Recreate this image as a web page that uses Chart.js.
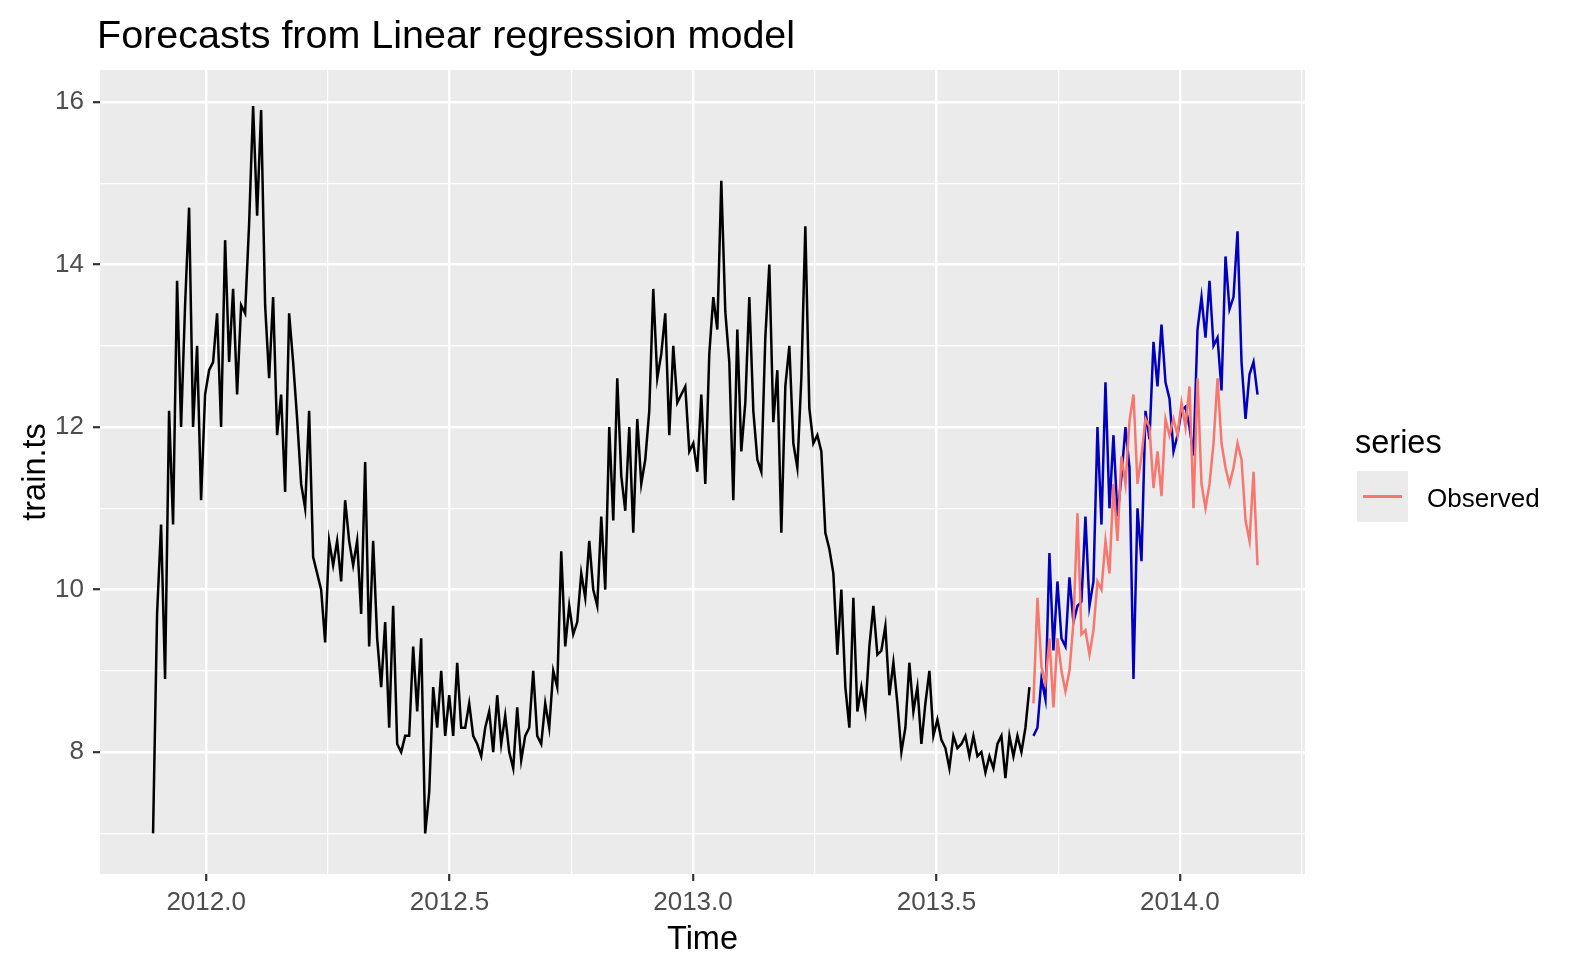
<!DOCTYPE html>
<html><head><meta charset="utf-8">
<script src="https://cdn.jsdelivr.net/npm/chart.js@4.4.0/dist/chart.umd.min.js"></script>
<style>html,body{margin:0;padding:0;background:#fff;overflow:hidden}</style>
</head><body>
<canvas id="c" width="1575" height="973"></canvas>
<script>
// time series index: start (decimal year) and sampling step (3 days)
const START_YEAR = 2011.891;
const STEP_YEARS = 3 / 365;

// training series (black)
const trainValues = [
  7.0, 9.7, 10.8, 8.9, 12.2, 10.8, 13.8, 12.0, 13.5, 14.7,
  12.0, 13.0, 11.1, 12.4, 12.7, 12.8, 13.4, 12.0, 14.3, 12.8,
  13.7, 12.4, 13.5, 13.4, 14.5, 15.95, 14.6, 15.9, 13.5, 12.6,
  13.6, 11.9, 12.4, 11.2, 13.4, 12.8, 12.1, 11.3, 11.0, 12.2,
  10.4, 10.2, 10.0, 9.35, 10.6, 10.3, 10.6, 10.1, 11.1, 10.6,
  10.3, 10.6, 9.7, 11.57, 9.3, 10.6, 9.4, 8.8, 9.6, 8.3,
  9.8, 8.1, 8.0, 8.2, 8.2, 9.3, 8.5, 9.4, 7.0, 7.5,
  8.8, 8.3, 9.0, 8.2, 8.7, 8.2, 9.1, 8.3, 8.3, 8.6,
  8.2, 8.1, 7.95, 8.3, 8.5, 8.0, 8.7, 8.1, 8.45, 8.0,
  7.8, 8.55, 7.9, 8.2, 8.3, 9.0, 8.2, 8.1, 8.6, 8.3,
  9.0, 8.8, 10.47, 9.3, 9.8, 9.45, 9.6, 10.2, 9.9, 10.6,
  10.0, 9.8, 10.9, 10.0, 12.0, 10.85, 12.6, 11.4, 10.97, 12.0,
  10.7, 12.1, 11.3, 11.6, 12.2, 13.7, 12.6, 12.9, 13.4, 11.9,
  13.0, 12.3, 12.4, 12.5, 11.7, 11.8, 11.45, 12.4, 11.3, 12.9,
  13.6, 13.2, 15.03, 13.42, 12.8, 11.1, 13.2, 11.7, 12.3, 13.6,
  12.2, 11.6, 11.45, 13.1, 14.0, 12.06, 12.7, 10.7, 12.5, 13.0,
  11.8, 11.5, 12.6, 14.47, 12.23, 11.8, 11.9, 11.7, 10.7, 10.5,
  10.2, 9.2, 10.0, 8.8, 8.3, 9.9, 8.5, 8.8, 8.5, 9.3,
  9.8, 9.2, 9.25, 9.55, 8.7, 9.1, 8.6, 8.0, 8.3, 9.1,
  8.5, 8.8, 8.1, 8.6, 9.0, 8.2, 8.4, 8.15, 8.05, 7.8,
  8.2, 8.05, 8.1, 8.2, 7.95, 8.2, 7.95, 8.0, 7.75, 7.95,
  7.8, 8.1, 8.2, 7.68, 8.2, 7.95, 8.2, 8.0, 8.3, 8.8
];

// forecast from linear regression model (blue)
const forecastValues = [
  8.2, 8.3, 8.9, 8.65, 10.45, 9.25, 10.1, 9.4, 9.3, 10.15,
  9.6, 9.8, 9.85, 10.9, 9.8, 10.1, 12.0, 10.8, 12.55, 11.0,
  11.9, 10.9, 11.4, 12.0, 11.5, 8.9, 11.0, 10.35, 12.2, 11.85,
  13.05, 12.5, 13.26, 12.55, 12.35, 11.7, 11.9, 12.2, 12.25, 12.0,
  11.65, 13.2, 13.6, 13.1, 13.8, 13.0, 13.1, 12.45, 14.1, 13.45,
  13.6, 14.41, 12.8, 12.1, 12.65, 12.8, 12.4
];

// observed test series (red)
const observedValues = [
  8.6, 9.9, 9.05, 8.85, 9.4, 8.55, 9.4, 9.0, 8.75, 9.0,
  9.6, 10.94, 9.45, 9.5, 9.2, 9.5, 10.1, 10.0, 10.6, 10.2,
  11.3, 10.6, 11.64, 11.3, 12.07, 12.4, 11.3, 11.64, 12.1, 12.0,
  11.25, 11.7, 11.15, 12.1, 11.9, 12.1, 11.9, 12.3, 12.0, 12.5,
  11.0, 12.6, 11.3, 11.0, 11.3, 11.8, 12.6, 11.8, 11.5, 11.3,
  11.5, 11.8, 11.6, 10.85, 10.6, 11.45, 10.3
];

const xMajorTicks = [2012.0, 2012.5, 2013.0, 2013.5, 2014.0];
const xMinorTicks = [2012.25, 2012.75, 2013.25, 2013.75, 2014.25];
const yMajorTicks = [8, 10, 12, 14, 16];
const yMinorTicks = [7, 9, 11, 13, 15];

const FONT = '"Liberation Sans", Arial, sans-serif';

function toPoints(vals, offset) {
  return vals.map((v, i) => ({ x: START_YEAR + (offset + i) * STEP_YEARS, y: v }));
}
const nTrain = trainValues.length;

const bgPlugin = {
  id: 'bg',
  beforeDraw(chart) {
    const { ctx, chartArea: a } = chart;
    ctx.save();
    ctx.fillStyle = '#FFFFFF';
    ctx.fillRect(0, 0, chart.width, chart.height);
    ctx.fillStyle = '#EBEBEB';
    ctx.fillRect(a.left, a.top, a.right - a.left, a.bottom - a.top);
    ctx.restore();
  }
};

const textPlugin = {
  id: 'texts',
  afterDraw(chart) {
    const { ctx, chartArea: a } = chart;
    ctx.save();
    ctx.fillStyle = '#000000';
    ctx.textBaseline = 'alphabetic';
    // title
    ctx.font = '39.5px ' + FONT;
    ctx.textAlign = 'left';
    ctx.fillText('Forecasts from Linear regression model', 97, 48);
    // x axis title
    ctx.font = '32.5px ' + FONT;
    ctx.textAlign = 'center';
    ctx.fillText('Time', (a.left + a.right) / 2, 949);
    // y axis title
    ctx.save();
    ctx.translate(45, (a.top + a.bottom) / 2);
    ctx.rotate(-Math.PI / 2);
    ctx.fillText('train.ts', 0, 0);
    ctx.restore();
    // legend
    ctx.textAlign = 'left';
    ctx.font = '32.5px ' + FONT;
    ctx.fillText('series', 1355, 453);
    ctx.fillStyle = '#EBEBEB';
    ctx.fillRect(1357, 471, 51, 51);
    ctx.strokeStyle = '#F8766D';
    ctx.lineWidth = 3;
    ctx.beginPath();
    ctx.moveTo(1363, 496.5);
    ctx.lineTo(1402, 496.5);
    ctx.stroke();
    ctx.fillStyle = '#000000';
    ctx.font = '26px ' + FONT;
    ctx.fillText('Observed', 1427, 507);
    ctx.restore();
  }
};

function isIn(arr, v) { return arr.some(t => Math.abs(t - v) < 1e-9); }

new Chart(document.getElementById('c').getContext('2d'), {
  type: 'line',
  data: {
    datasets: [
      { label: 'Observed', data: toPoints(observedValues, nTrain), borderColor: '#F8766D',
        borderWidth: 2.5, pointRadius: 0, tension: 0, fill: false, order: 1 },
      { label: 'Forecast', data: toPoints(forecastValues, nTrain), borderColor: '#0000BE',
        borderWidth: 2.5, pointRadius: 0, tension: 0, fill: false, order: 2 },
      { label: 'train.ts', data: toPoints(trainValues, 0), borderColor: '#000000',
        borderWidth: 2.5, pointRadius: 0, tension: 0, fill: false, order: 3 }
    ]
  },
  options: {
    responsive: false,
    animation: false,
    devicePixelRatio: 1,
    layout: { padding: { top: 70, right: 270, left: 0, bottom: 0 } },
    plugins: { legend: { display: false }, tooltip: { enabled: false }, title: { display: false } },
    scales: {
      x: {
        type: 'linear', min: 2011.782, max: 2014.257,
        afterBuildTicks: s => { s.ticks = xMajorTicks.concat(xMinorTicks).sort((p, q) => p - q).map(v => ({ value: v })); },
        afterFit: s => { s.height = 99; },
        ticks: {
          autoSkip: false, maxRotation: 0, minRotation: 0, padding: 6,
          color: '#4D4D4D', font: { family: FONT, size: 26 },
          callback: v => isIn(xMajorTicks, v) ? v.toFixed(1) : ''
        },
        grid: {
          color: '#FFFFFF',
          lineWidth: c => (c.tick && isIn(xMajorTicks, c.tick.value)) ? 2.4 : 1.2,
          tickLength: 7, tickWidth: 2.2,
          tickColor: c => (c.tick && isIn(xMajorTicks, c.tick.value)) ? '#333333' : 'rgba(0,0,0,0)'
        },
        border: { display: false }
      },
      y: {
        type: 'linear', min: 6.50, max: 16.394,
        afterBuildTicks: s => { s.ticks = yMajorTicks.concat(yMinorTicks).sort((p, q) => p - q).map(v => ({ value: v })); },
        afterFit: s => { s.width = 100; },
        ticks: {
          autoSkip: false, padding: 9,
          color: '#4D4D4D', font: { family: FONT, size: 26 },
          callback: v => isIn(yMajorTicks, v) ? String(v) : ''
        },
        grid: {
          color: '#FFFFFF',
          lineWidth: c => (c.tick && isIn(yMajorTicks, c.tick.value)) ? 2.4 : 1.2,
          tickLength: 7, tickWidth: 2.2,
          tickColor: c => (c.tick && isIn(yMajorTicks, c.tick.value)) ? '#333333' : 'rgba(0,0,0,0)'
        },
        border: { display: false }
      }
    }
  },
  plugins: [bgPlugin, textPlugin]
});
</script>
</body></html>
